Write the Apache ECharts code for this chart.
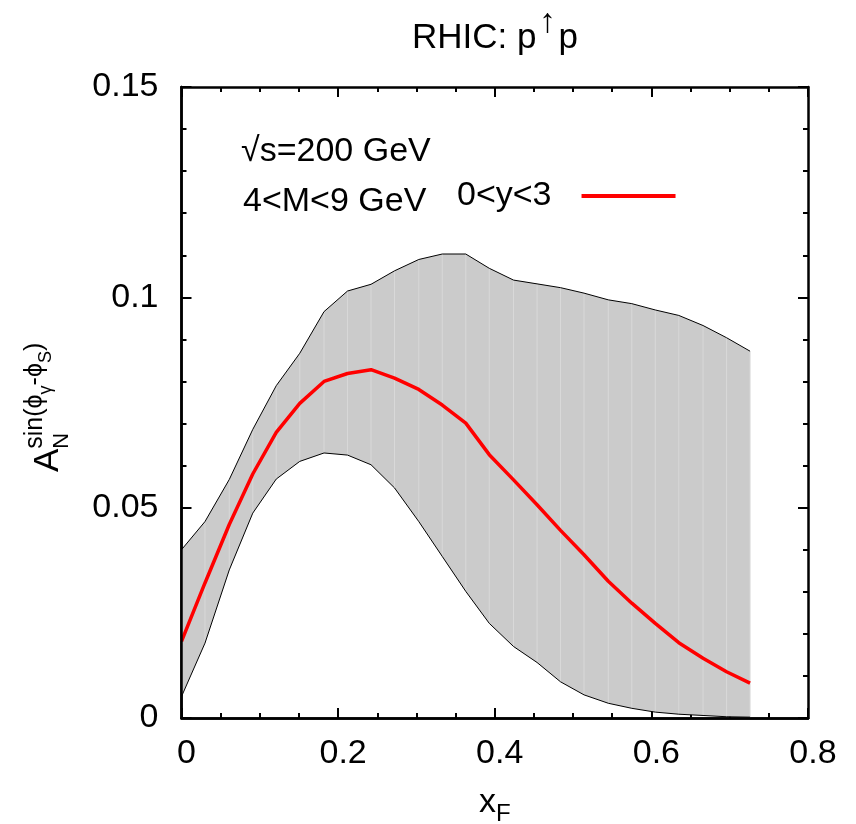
<!DOCTYPE html>
<html>
<head>
<meta charset="utf-8">
<script src="https://cdn.jsdelivr.net/npm/echarts@6/dist/echarts.min.js"></script>
<style>html,body{margin:0;padding:0;background:#fff}#c{width:856px;height:824px}</style>
</head>
<body>
<div id="c"></div>
<script>
// ---- data ----
const xF = [0, 0.030, 0.061, 0.091, 0.121, 0.151, 0.182, 0.212, 0.242, 0.272, 0.303, 0.333, 0.363,
            0.393, 0.424, 0.454, 0.484, 0.514, 0.545, 0.575, 0.605, 0.635, 0.666, 0.696, 0.726];
const central = [0.0182, 0.0321, 0.0460, 0.0580, 0.0679, 0.0748, 0.0800, 0.0819, 0.0828, 0.0808, 0.0781, 0.0744, 0.0701,
                 0.0626, 0.0566, 0.0507, 0.0446, 0.0388, 0.0325, 0.0273, 0.0225, 0.0179, 0.0142, 0.0110, 0.0083];
const upper = [0.0400, 0.0467, 0.0567, 0.0686, 0.0790, 0.0867, 0.0966, 0.1015, 0.1031, 0.1063, 0.1090, 0.1103, 0.1103,
               0.1069, 0.1041, 0.1032, 0.1023, 0.1010, 0.0994, 0.0985, 0.0970, 0.0957, 0.0933, 0.0904, 0.0872];
const lower = [0.0051, 0.0178, 0.0352, 0.0487, 0.0568, 0.0610, 0.0630, 0.0625, 0.0602, 0.0547, 0.0467, 0.0384, 0.0301,
               0.0225, 0.0170, 0.0132, 0.0086, 0.0055, 0.0035, 0.0023, 0.0014, 0.0009, 0.0006, 0.0003, 0.0002];
const xTickValues = [0, 0.2, 0.4, 0.6, 0.8];
const yTickValues = [0, 0.05, 0.1, 0.15];
const seriesName = '0<y<3';

// ---- styling ----
const FONT = "'Liberation Sans', 'DejaVu Sans', Arial, sans-serif";
const FS = 34;
const chart = echarts.init(document.getElementById('c'), null, {renderer: 'canvas'});

const xRange = {min: xTickValues[0], max: xTickValues[xTickValues.length - 1], interval: xTickValues[1] - xTickValues[0]};
const yRange = {min: yTickValues[0], max: yTickValues[yTickValues.length - 1], interval: yTickValues[1] - yTickValues[0]};

const tickStyle = {color: '#000', width: 2};
const lineStyleAxis = {color: '#000', width: 2.5};

function frameAxis(extra) {
  return Object.assign({
    type: 'value',
    splitLine: {show: false},
    axisLine: {show: true, onZero: false, lineStyle: lineStyleAxis},
    axisTick: {show: true, inside: true, length: 10, lineStyle: tickStyle},
    axisLabel: {show: false},
    minorTick: {show: true, length: 5, lineStyle: tickStyle}
  }, extra);
}

// band polygon (upper edge forward, lower edge backward) plus the faint seams at each sample, via the axis scales
function renderBand(params, api) {
  if (params.dataIndex !== 0) return null;
  const pts = [];
  for (let i = 0; i < xF.length; i++) pts.push(api.coord([xF[i], upper[i]]));
  for (let i = xF.length - 1; i >= 0; i--) pts.push(api.coord([xF[i], lower[i]]));
  const children = [{type: 'polygon', shape: {points: pts}, style: {fill: '#cbcbcb', stroke: null}, silent: true}];
  for (let i = 1; i < xF.length; i++) {
    const a = api.coord([xF[i], upper[i]]);
    const b = api.coord([xF[i], lower[i]]);
    children.push({type: 'line', shape: {x1: a[0], y1: a[1], x2: b[0], y2: b[1]},
      style: {stroke: '#d9d9d9', lineWidth: 1}, silent: true});
  }
  return {type: 'group', children: children};
}

const option = {
  animation: false,
  backgroundColor: '#fff',
  title: {
    text: '{m|RHIC: p}{a|↑}{m|p}',
    left: 407,
    top: 1,
    padding: 5,
    textStyle: {
      fontWeight: 'normal',
      rich: {
        m: {fontSize: 35, fontFamily: FONT, fontWeight: 'normal', color: '#000', lineHeight: 64},
        a: {fontSize: 34, fontFamily: FONT, fontWeight: 'normal', color: '#000', verticalAlign: 'top', width: 22, align: 'center'}
      }
    }
  },
  grid: {left: 181.5, right: 48, top: 87, bottom: 106, containLabel: false, outerBoundsMode: 'none'},
  legend: {
    data: [seriesName],
    left: 457,
    top: 179,
    padding: 0,
    align: 'right',
    icon: 'rect',
    itemWidth: 94,
    itemHeight: 4,
    selectedMode: false,
    textStyle: {fontSize: FS, fontFamily: FONT, color: '#000', padding: [0, 25, 0, 0]}
  },
  xAxis: [
    frameAxis(Object.assign({position: 'bottom', minorTick: {show: true, splitNumber: 4, length: 5, lineStyle: tickStyle},
      axisLabel: {show: true, margin: 19, fontSize: FS, fontFamily: FONT, color: '#000', padding: [0, 0, 0, 10]},
      name: '{x|x}{f|F}', nameLocation: 'middle', nameGap: 68,
      nameTextStyle: {rich: {
        x: {fontSize: FS, fontFamily: FONT, color: '#000', verticalAlign: 'top'},
        f: {fontSize: 24, fontFamily: FONT, color: '#000', verticalAlign: 'top', padding: [16, 0, 0, 0]}
      }}
    }, xRange)),
    frameAxis(Object.assign({position: 'top', minorTick: {show: true, splitNumber: 4, length: 5, lineStyle: tickStyle}}, xRange)),
    Object.assign({type: 'value', position: 'bottom', z: 10, splitLine: {show: false},
      axisLine: {show: true, onZero: false, lineStyle: lineStyleAxis}, axisTick: {show: false}, axisLabel: {show: false}}, xRange)
  ],
  yAxis: [
    frameAxis(Object.assign({position: 'left', minorTick: {show: true, splitNumber: 5, length: 5, lineStyle: tickStyle},
      axisLabel: {show: true, margin: 23, fontSize: FS, fontFamily: FONT, color: '#000'}}, yRange)),
    frameAxis(Object.assign({position: 'right', minorTick: {show: true, splitNumber: 5, length: 5, lineStyle: tickStyle}}, yRange)),
    Object.assign({type: 'value', position: 'left', z: 10, splitLine: {show: false},
      axisLine: {show: true, onZero: false, lineStyle: lineStyleAxis}, axisTick: {show: false}, axisLabel: {show: false}}, yRange)
  ],
  series: [
    {
      name: 'band', type: 'custom', z: 2, silent: true,
      renderItem: renderBand,
      data: xF.map((x, i) => [x, lower[i], upper[i]]),
      encode: {x: 0, y: [1, 2]}
    },
    {
      name: 'lower', type: 'line', symbol: 'none', z: 3, silent: true,
      data: xF.map((x, i) => [x, lower[i]]),
      lineStyle: {color: '#000', width: 1}
    },
    {
      name: 'upper', type: 'line', symbol: 'none', z: 3, silent: true,
      data: xF.map((x, i) => [x, upper[i]]),
      lineStyle: {color: '#000', width: 1}
    },
    {
      name: seriesName, type: 'line', symbol: 'none', z: 5, color: '#ff0000',
      data: xF.map((x, i) => [x, central[i]]),
      lineStyle: {color: '#ff0000', width: 3.5}
    }
  ],
  graphic: [
    {type: 'text', x: 241, y: 151.2, silent: true, z: 100,
     style: {text: '√s=200 GeV', fontSize: FS, fontFamily: FONT, fill: '#000', align: 'left', verticalAlign: 'middle'}},
    {type: 'text', x: 243, y: 201.2, silent: true, z: 100,
     style: {text: '4<M<9 GeV', fontSize: FS, fontFamily: FONT, fill: '#000', align: 'left', verticalAlign: 'middle'}},
    {type: 'text', x: 47.9, y: 472, rotation: Math.PI / 2, silent: true, z: 100,
     style: {text: 'A', fontSize: 35, fontFamily: FONT, fill: '#000', align: 'left', verticalAlign: 'middle'}},
    {type: 'text', x: 62.4, y: 448.7, rotation: Math.PI / 2, silent: true, z: 100,
     style: {text: 'N', fontSize: 22, fontFamily: FONT, fill: '#000', align: 'left', verticalAlign: 'middle'}},
    {type: 'text', x: 22.8, y: 448.7, rotation: Math.PI / 2, silent: true, z: 100,
     style: {text: '{p|sin(ϕ}{q|γ}{p|-ϕ}{q|S}{p|)}', fill: '#000', align: 'left', verticalAlign: 'top',
       rich: {
         p: {fontSize: 25, fontFamily: FONT, fill: '#000', verticalAlign: 'top'},
         q: {fontSize: 18, fontFamily: FONT, fill: '#000', verticalAlign: 'top', padding: [14.5, 0, 0, 0]}
       }}}
  ]
};
chart.setOption(option);
</script>
</body>
</html>
